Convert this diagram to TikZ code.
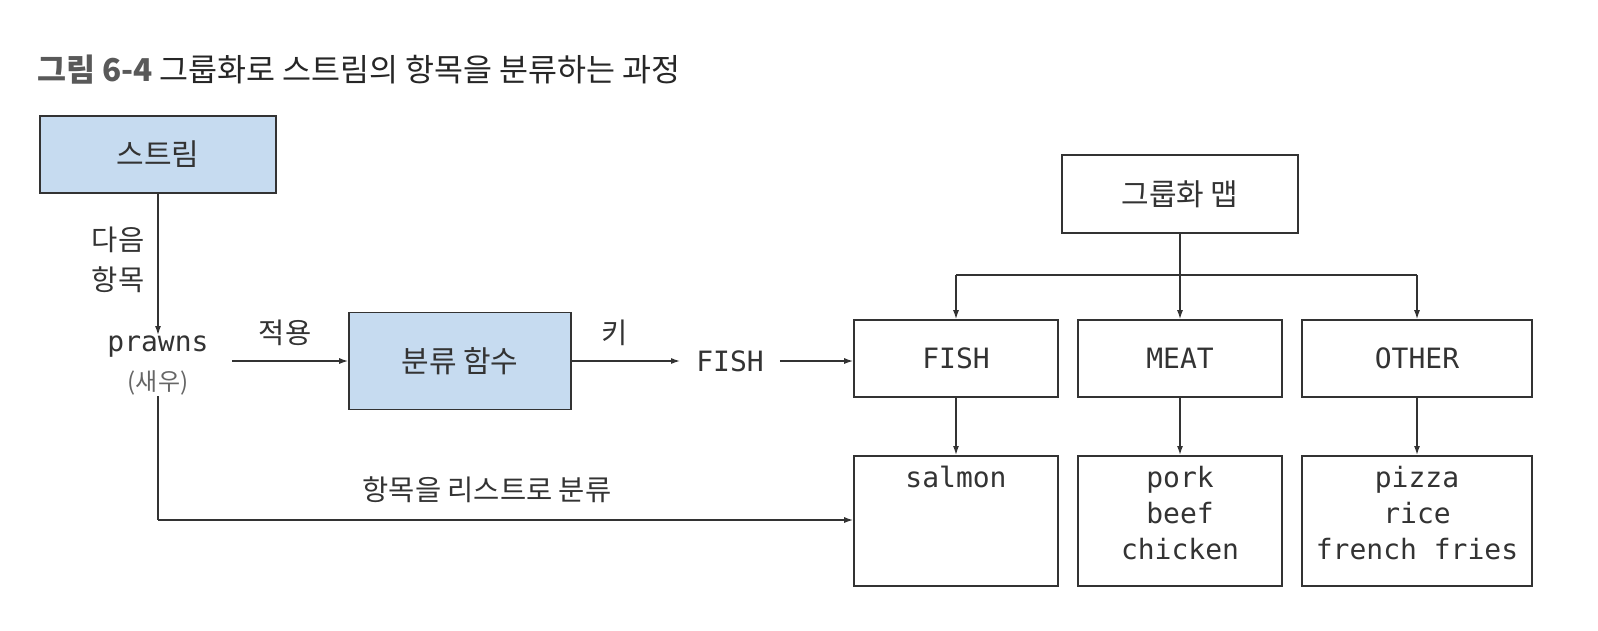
\documentclass[tikz,border=0pt]{standalone}
\usepackage{fontspec}
\usetikzlibrary{arrows.meta}
\newfontfamily\kr{Noto Sans CJK KR}
\newfontfamily\mono{DejaVu Sans Mono}
\definecolor{boxblue}{RGB}{198,219,240}
\definecolor{ink}{RGB}{51,51,51}
\begin{document}
\begin{tikzpicture}[x=1pt,y=-1pt,
  box/.style={draw=ink, line width=1.6pt, inner sep=0pt, text=ink},
  bluebox/.style={box, fill=boxblue, font=\kr\fontsize{30}{34}\selectfont},
  mbox/.style={box, font=\mono\fontsize{28}{36}\selectfont},
  klab/.style={text=ink, inner sep=1pt, font=\kr\fontsize{28.5}{40}\selectfont},
  mlab/.style={text=ink, inner sep=1pt, font=\mono\fontsize{28}{36}\selectfont},
  arr/.style={draw=ink, line width=1.4pt, -{Latex[length=9pt,width=6pt]}},
  ln/.style={draw=ink, line width=1.4pt}]
\useasboundingbox (0,0) rectangle (1598,630);
% title
\node[anchor=west, inner sep=0pt] (title) at (37,70)
  {\kr\fontsize{31.5}{38}\selectfont\textcolor{black!65}{\bfseries 그림 6-4} \textcolor{black!85}{그룹화로 스트림의 항목을 분류하는 과정}};
% left part
\node[bluebox, minimum width=236, minimum height=77] (stream) at (158,154.5) {스트림};
\node[klab, align=center] (next) at (118,260) {다음\\항목};
\node[mlab] (prawns) at (158,347) {prawns};
\node[klab, text=black!60, font=\kr\fontsize{24}{26}\selectfont] (saewoo) at (158,383) {(새우)};
\node[bluebox, minimum width=222, minimum height=97] (classify) at (460,361) {분류 함수};
\node[klab] (apply) at (285,333) {적용};
\node[klab] (key) at (615,333) {키};
\node[mlab, inner xsep=16pt] (fishkey) at (730,361) {FISH};
\coordinate (prawnsE) at (232,361);
\coordinate (corner) at (158,520);
% grouping map
\node[box, minimum width=236, minimum height=78, font=\kr\fontsize{30}{34}\selectfont] (map) at (1180,194) {그룹화 맵};
\node[mbox, minimum width=204, minimum height=77] (fish) at (956,358.5) {FISH};
\node[mbox, minimum width=204, minimum height=77] (meat) at (1180,358.5) {MEAT};
\node[mbox, minimum width=230, minimum height=77] (other) at (1417,358.5) {OTHER};
\node[mbox, minimum width=204, minimum height=130, anchor=north] (lfish) at (956,455) {};
\node[mbox, minimum width=204, minimum height=130, anchor=north] (lmeat) at (1180,455) {};
\node[mbox, minimum width=230, minimum height=130, anchor=north] (lother) at (1417,455) {};
\node[mlab, anchor=north, align=center] (tfish) at (956,465) {salmon};
\node[mlab, anchor=north, align=center] (tmeat) at (1180,465) {pork\\beef\\chicken};
\node[mlab, anchor=north, align=center] (tother) at (1417,465) {pizza\\rice\\french fries};
\coordinate (split) at (1180,275);
% connectors
\draw[arr] (stream.south) -- (prawns.north);
\draw[arr] (prawnsE) -- (prawnsE -| classify.west);
\draw[arr] (classify.east) -- (fishkey.west);
\draw[arr] (fishkey.east) -- (fishkey.east -| fish.west);
\draw[ln] (saewoo.south) -- (corner);
\draw[arr] (corner) -- (corner -| lfish.west);
\node[klab] (tolist) at (487,490) {항목을 리스트로 분류};
\draw[arr] (map.south) -- (map.south |- meat.north);
\draw[ln] (fish.north |- split) -- (other.north |- split);
\draw[arr] (fish.north |- split) -- (fish.north);
\draw[arr] (other.north |- split) -- (other.north);
\draw[arr] (fish.south) -- (lfish.north);
\draw[arr] (meat.south) -- (lmeat.north);
\draw[arr] (other.south) -- (lother.north);
\end{tikzpicture}
\end{document}
